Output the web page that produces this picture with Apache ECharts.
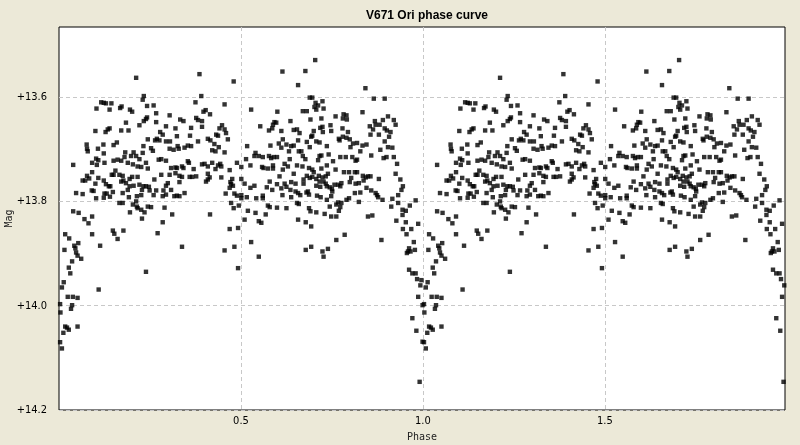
<!DOCTYPE html>
<html>
<head>
<meta charset="utf-8">
<script src="https://cdn.jsdelivr.net/npm/echarts@6/dist/echarts.min.js"></script>
<style>
html,body{margin:0;padding:0;background:#ece9d8;}
#chart{width:800px;height:445px;}
</style>
</head>
<body>
<div id="chart"></div>
<script>
// Observed phase (0..1) and magnitude; the curve is plotted over two cycles (phase and phase+1)
const phase = [
  // rise after minimum
  .116,.123,.129,.144,.103,.139,.100,.128,.134,.139,
  .076,.077,.079,.107,.122,.123,.150,.102,.091,.108,
  .104,.125,.150,.039,.091,.155,.150,.145,.077,.065,
  .072,.083,.108,.100,.123,.129,.137,.141,.090,.095,
  .047,.065,.102,.125,.131,.123,.140,.148,.039,.054,
  .070,.081,.091,.017,.028,.091,.148,.152,.015,.042,
  .053,.045,.047,.051,.061,.113,.036,.027,.031,.013,
  .008,.109,.024,.038,.051,.003,.036,.033,.004,.017,
  .022,.027,.051,.012,.003,.008,
  // 0.16 - 0.32
  .212,.233,.230,.168,.172,.195,.201,.242,.260,.267,
  .304,.239,.242,.233,.184,.221,.267,.294,.320,.171,
  .191,.278,.285,.244,.253,.258,.264,.269,.276,.294,
  .305,.304,.315,.159,.182,.205,.230,.232,.198,.212,
  .221,.161,.171,.180,.189,.203,.216,.226,.239,.244,
  .274,.281,.294,.308,.320,.166,.175,.177,.194,.201,
  .216,.184,.171,.194,.205,.221,.232,.239,.247,.249,
  .262,.281,.304,.320,.299,.294,.287,.267,.228,.189,
  .175,.192,.214,.226,.260,.285,.294,.308,.317,.166,
  .175,.203,.212,.214,.216,.226,.235,.244,.253,.290,
  .195,.228,.311,.285,.177,.271,.161,.239,
  // 0.32 - 0.49
  .386,.480,.391,.375,.455,.397,.403,.415,.333,.342,
  .377,.382,.393,.363,.393,.448,.441,.455,.459,.432,
  .437,.324,.360,.409,.416,.464,.326,.329,.345,.354,
  .363,.382,.427,.439,.421,.430,.455,.354,.357,.370,
  .393,.400,.409,.421,.430,.437,.443,.446,.469,.324,
  .338,.342,.331,.338,.359,.366,.377,.409,.414,.409,
  .404,.446,.476,.471,.473,.478,.331,.345,.331,.324,
  .458,.469,.482,.473,.480,.415,.469,.338,.455,.482,
  // 0.49 - 0.65
  .614,.528,.600,.553,.577,.586,.588,.592,.597,.611,
  .636,.645,.517,.581,.604,.611,.615,.625,.632,.638,
  .645,.540,.537,.549,.560,.577,.583,.590,.599,.514,
  .634,.489,.501,.526,.558,.562,.574,.588,.588,.620,
  .629,.615,.645,.606,.501,.510,.526,.537,.571,.579,
  .586,.599,.611,.620,.625,.638,.636,.650,.650,.489,
  .501,.501,.516,.542,.560,.560,.614,.638,.494,.574,
  .579,.599,.625,.519,.540,.568,.510,.549,.556,.492,
  .528,.549,.492,
  // 0.65 - 0.82
  .704,.677,.657,.689,.696,.705,.724,.702,.707,.727,
  .712,.670,.681,.691,.721,.760,.782,.790,.791,.780,
  .746,.718,.724,.725,.700,.696,.693,.654,.661,.748,
  .779,.794,.769,.771,.780,.790,.799,.801,.808,.657,
  .681,.689,.707,.716,.736,.659,.666,.670,.677,.712,
  .716,.721,.741,.753,.773,.788,.806,.815,.654,.669,
  .687,.696,.700,.721,.736,.760,.783,.797,.813,.803,
  .672,.672,.681,.689,.696,.707,.714,.724,.733,.739,
  .727,.716,.707,.718,.733,.736,.744,.750,.757,.767,
  .773,.776,.799,.815,.657,.663,.680,.684,.687,.709,
  .719,.736,.748,.751,.767,.776,.773,.790,.797,.813,
  .654,.659,.687,.691,.707,.730,.748,.762,.769,.762,
  .744,.657,.678,.693,.762,.785,.678,.693,.724,.727,
  .739,
  // 0.82 - 1.00 (descent into minimum)
  .842,.865,.895,.834,.904,.920,.925,.890,.881,.868,
  .870,.854,.863,.895,.901,.911,.907,.895,.856,.879,
  .819,.834,.845,.904,.916,.883,.828,.858,.892,.900,
  .920,.929,.819,.819,.925,.835,.843,.849,.856,.837,
  .879,.938,.824,.845,.858,.870,.874,.877,.889,.828,
  .945,.941,.932,.916,.932,.913,.824,.980,.964,.849,
  .861,.944,.953,.944,.927,.953,.987,.945,.968,.955,
  .886,.975,.962,.959,.956,.966,.978,.962,.971,.980,
  .984,.996,.993,.987,.999,.971,.982,.999,.991
];
const mag = [
  13.610,13.611,13.612,13.612,13.622,13.624,13.665,13.667,13.662,13.660,
  13.691,13.699,13.704,13.699,13.691,13.708,13.692,13.718,13.726,13.721,
  13.730,13.726,13.722,13.730,13.744,13.741,13.749,13.749,13.751,13.760,
  13.760,13.756,13.755,13.766,13.760,13.767,13.771,13.771,13.779,13.780,
  13.784,13.786,13.794,13.785,13.785,13.793,13.791,13.782,13.819,13.822,
  13.834,13.842,13.829,13.863,13.871,13.863,13.856,13.862,13.893,13.885,
  13.880,13.890,13.898,13.904,13.910,13.885,13.915,13.927,13.938,13.955,
  13.965,13.969,13.983,13.983,13.985,13.997,13.999,14.006,14.013,14.040,
  14.042,14.046,14.040,14.052,14.070,14.082,

  13.563,13.598,13.605,13.621,13.618,13.624,13.628,13.617,13.616,13.631,
  13.635,13.642,13.639,13.646,13.649,13.654,13.648,13.656,13.660,13.664,
  13.664,13.667,13.672,13.681,13.698,13.703,13.683,13.680,13.683,13.685,
  13.685,13.699,13.701,13.687,13.706,13.706,13.707,13.694,13.713,13.713,
  13.719,13.720,13.722,13.715,13.726,13.729,13.733,13.734,13.726,13.737,
  13.720,13.719,13.722,13.736,13.735,13.749,13.751,13.760,13.757,13.753,
  13.753,13.765,13.762,13.771,13.770,13.768,13.771,13.771,13.772,13.779,
  13.758,13.749,13.749,13.746,13.765,13.770,13.779,13.779,13.778,13.778,
  13.784,13.792,13.790,13.788,13.788,13.790,13.787,13.778,13.790,13.803,
  13.803,13.806,13.800,13.810,13.813,13.816,13.821,13.810,13.811,13.812,
  13.821,13.833,13.825,13.840,13.856,13.861,13.872,13.935,

  13.556,13.570,13.598,13.610,13.614,13.628,13.625,13.633,13.643,13.646,
  13.640,13.644,13.646,13.659,13.657,13.654,13.660,13.662,13.669,13.672,
  13.674,13.675,13.674,13.680,13.683,13.681,13.694,13.699,13.697,13.693,
  13.694,13.685,13.690,13.696,13.702,13.704,13.706,13.723,13.726,13.738,
  13.729,13.728,13.733,13.726,13.738,13.731,13.728,13.733,13.740,13.736,
  13.733,13.736,13.751,13.753,13.753,13.753,13.752,13.747,13.754,13.758,
  13.762,13.754,13.757,13.763,13.767,13.770,13.763,13.784,13.790,13.789,
  13.785,13.774,13.785,13.803,13.813,13.825,13.853,13.887,13.894,13.887,

  13.551,13.624,13.628,13.656,13.664,13.660,13.653,13.648,13.649,13.665,
  13.646,13.663,13.694,13.693,13.689,13.697,13.681,13.691,13.704,13.694,
  13.693,13.707,13.713,13.713,13.715,13.713,13.717,13.715,13.715,13.719,
  13.719,13.726,13.734,13.731,13.734,13.736,13.737,13.731,13.737,13.728,
  13.733,13.739,13.747,13.752,13.757,13.766,13.774,13.770,13.773,13.762,
  13.778,13.767,13.775,13.766,13.772,13.763,13.778,13.766,13.781,13.789,
  13.788,13.794,13.792,13.794,13.789,13.794,13.788,13.792,13.808,13.808,
  13.811,13.812,13.813,13.818,13.822,13.825,13.835,13.838,13.841,13.851,
  13.878,13.906,13.928,

  13.529,13.550,13.577,13.601,13.601,13.611,13.608,13.619,13.624,13.622,
  13.616,13.627,13.627,13.643,13.641,13.637,13.633,13.635,13.643,13.641,
  13.654,13.659,13.657,13.667,13.665,13.674,13.676,13.662,13.669,13.665,
  13.660,13.667,13.680,13.683,13.676,13.678,13.681,13.696,13.689,13.683,
  13.686,13.696,13.685,13.687,13.694,13.704,13.704,13.713,13.719,13.721,
  13.713,13.712,13.710,13.723,13.715,13.715,13.715,13.722,13.731,13.733,
  13.736,13.739,13.744,13.737,13.731,13.739,13.744,13.744,13.744,13.755,
  13.758,13.766,13.751,13.755,13.753,13.757,13.751,13.754,13.752,13.747,
  13.762,13.762,13.770,13.772,13.766,13.771,13.773,13.776,13.768,13.768,
  13.771,13.765,13.763,13.766,13.784,13.788,13.783,13.781,13.787,13.789,
  13.792,13.797,13.790,13.781,13.802,13.803,13.811,13.797,13.794,13.784,
  13.803,13.805,13.813,13.819,13.821,13.824,13.829,13.829,13.818,13.806,
  13.810,13.835,13.840,13.848,13.874,13.864,13.893,13.887,13.896,13.906,
  13.891,

  13.583,13.603,13.603,13.629,13.637,13.644,13.653,13.644,13.653,13.646,
  13.653,13.656,13.662,13.660,13.664,13.667,13.676,13.685,13.672,13.672,
  13.688,13.693,13.691,13.696,13.697,13.701,13.704,13.712,13.717,13.715,
  13.715,13.728,13.720,13.744,13.747,13.751,13.754,13.752,13.752,13.760,
  13.757,13.758,13.765,13.774,13.779,13.784,13.788,13.792,13.797,13.783,
  13.771,13.778,13.788,13.795,13.803,13.810,13.801,13.798,13.808,13.829,
  13.827,13.816,13.818,13.826,13.837,13.840,13.843,13.853,13.853,13.863,
  13.874,13.878,13.890,13.896,13.899,13.896,13.893,13.931,13.938,13.938,
  13.949,13.951,13.961,13.983,13.999,14.024,14.048,14.069,14.146
];
const cycles = [0, 1];
const xTicks = [0.5, 1.0, 1.5];
const yTicks = [13.6, 13.8, 14.0, 14.2];
const xRange = [0, 1.995];
const yRange = [13.4656, 14.2];

const points = [];
cycles.forEach(c => phase.forEach((p, i) => points.push([p + c, mag[i]])));

const chart = echarts.init(document.getElementById('chart'), null, {renderer: 'canvas'});
const labelFont = "'Liberation Sans Narrow','DejaVu Sans Condensed','Liberation Sans',sans-serif";
chart.setOption({
  backgroundColor: '#ece9d8',
  animation: false,
  title: {
    text: 'V671 Ori phase curve',
    left: 422, top: 5, textAlign: 'center',
    textStyle: {fontFamily: "'Liberation Sans',Arial,sans-serif", fontSize: 12, fontWeight: 'bold', color: '#000'}
  },
  grid: {
    left: 59, top: 27, width: 726, height: 383,
    outerBoundsMode: 'none', containLabel: false,
    show: true, backgroundColor: '#ffffff', borderColor: '#000', borderWidth: 1
  },
  xAxis: {
    type: 'value', min: xRange[0], max: xRange[1],
    name: 'Phase', nameLocation: 'middle', nameGap: 22, nameMoveOverlap: false,
    nameTextStyle: {fontFamily: "'DejaVu Sans Mono',monospace", fontSize: 10, color: '#222'},
    axisLine: {show: false},
    axisTick: {show: false, customValues: xTicks},
    axisLabel: {customValues: xTicks, margin: 6, formatter: v => v.toFixed(1),
      fontFamily: labelFont, fontSize: 11, color: '#000'},
    splitLine: {show: true, lineStyle: {color: '#c8c8c8', type: [4, 3], width: 1}}
  },
  yAxis: {
    type: 'value', inverse: true, min: yRange[0], max: yRange[1],
    name: 'Mag', nameLocation: 'middle', nameGap: 45, nameMoveOverlap: false,
    nameTextStyle: {fontFamily: "'DejaVu Sans Mono',monospace", fontSize: 10, color: '#222'},
    axisLine: {show: false},
    axisTick: {show: false, customValues: yTicks},
    axisLabel: {customValues: yTicks, margin: 12, formatter: v => '+' + v.toFixed(1),
      fontFamily: labelFont, fontSize: 11, color: '#000'},
    splitLine: {show: true, lineStyle: {color: '#c8c8c8', type: [4, 3], width: 1}}
  },
  series: [{
    type: 'scatter',
    data: points,
    symbol: 'rect',
    symbolSize: 4.4,
    itemStyle: {color: '#000'},
    clip: true
  }]
});
</script>
</body>
</html>
